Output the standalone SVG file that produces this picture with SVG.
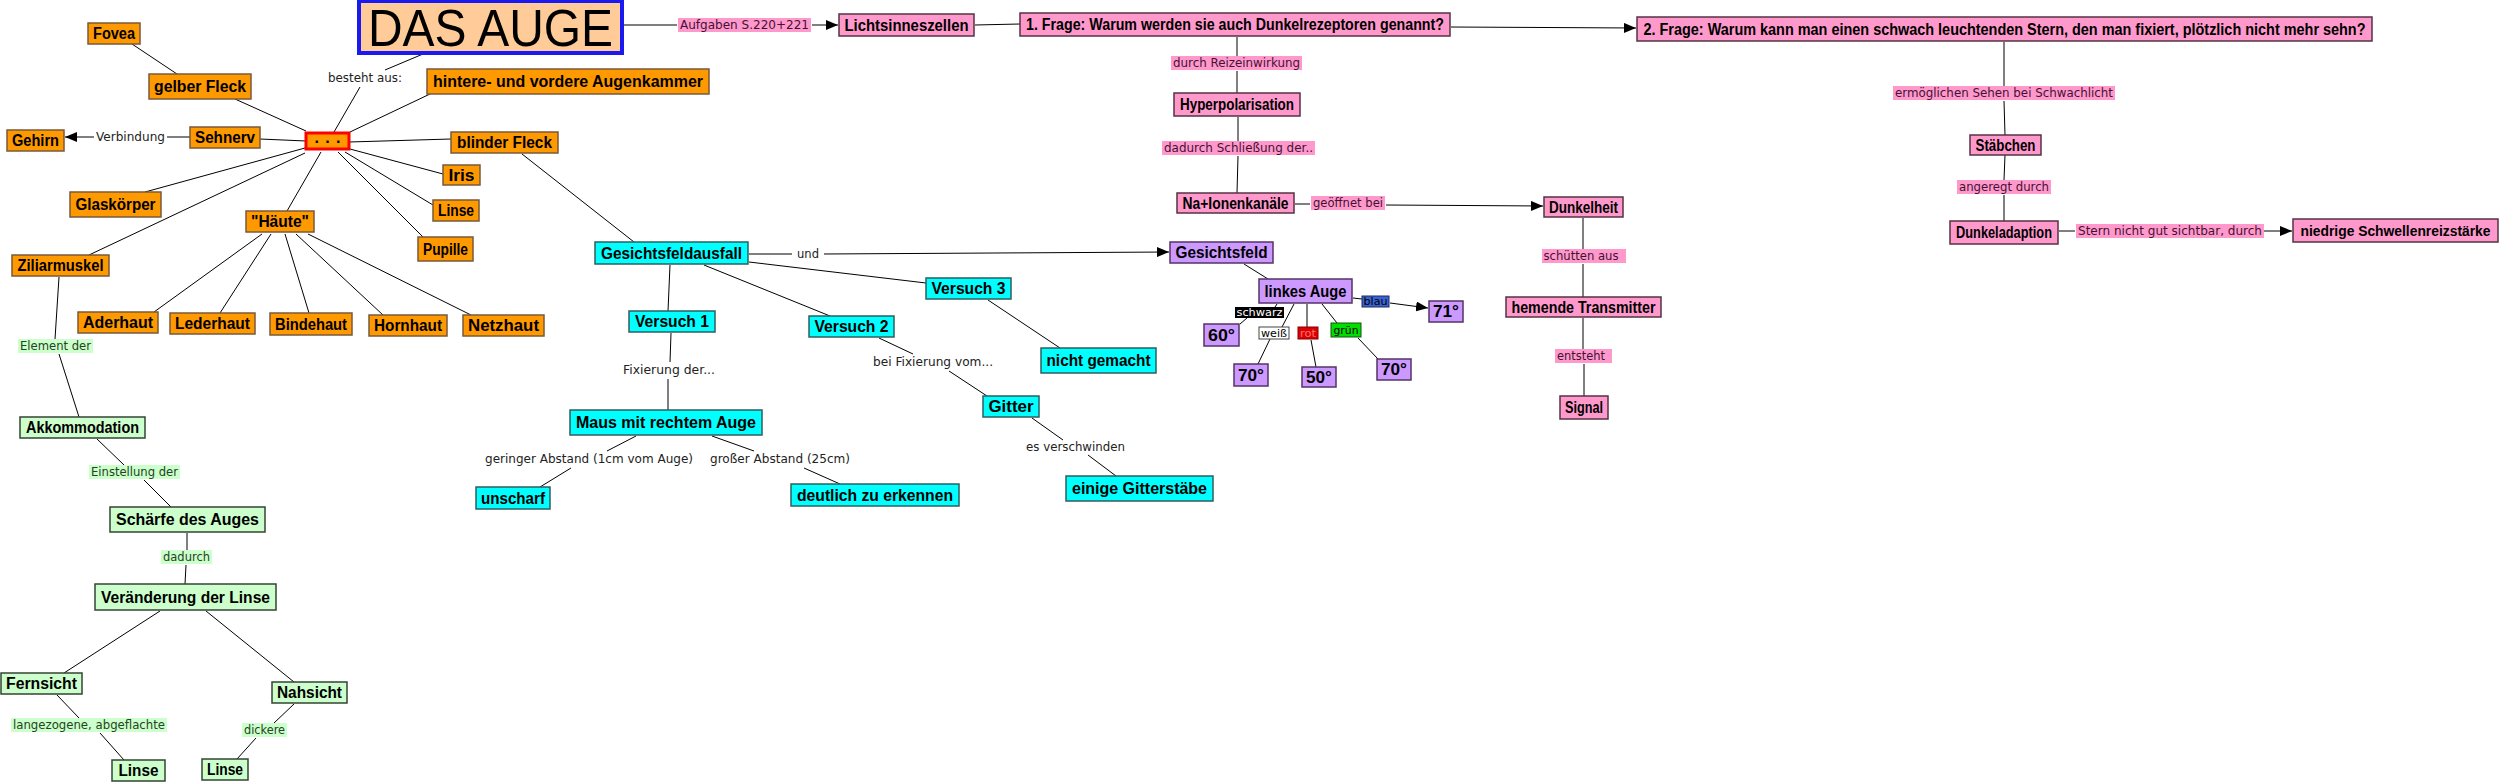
<svg xmlns="http://www.w3.org/2000/svg" width="2503" height="783" viewBox="0 0 2503 783">
<style>
.o{fill:#FF9900;stroke:#7a5a3a;stroke-width:1.5}
.c{fill:#00FFFF;stroke:#2f5f5f;stroke-width:1.5}
.p{fill:#FF99CC;stroke:#553344;stroke-width:1.5}
.v{fill:#CC99FF;stroke:#553366;stroke-width:1.5}
.g{fill:#CCFFCC;stroke:#334433;stroke-width:1.5}
.nt{font-family:"Liberation Sans",Arial,sans-serif;font-weight:bold;font-size:16px;fill:#000;text-anchor:middle;dominant-baseline:central}
.lt{font-family:"DejaVu Sans",Verdana,sans-serif;font-size:11.5px;fill:#222;text-anchor:middle;dominant-baseline:central}
.st{font-family:"DejaVu Sans",Verdana,sans-serif;font-size:10px;fill:#000;text-anchor:middle;dominant-baseline:central}
.lpt{fill:#441133}
.lgt{fill:#224422}
.lp{fill:#FF99CC}
.lg{fill:#CCFFCC}
.e line{stroke:#000;stroke-width:1;fill:none}
.e line.a{marker-end:url(#arr)}
</style>
<defs>
<marker id="arr" markerWidth="12" markerHeight="10" refX="12" refY="5" orient="auto" markerUnits="userSpaceOnUse"><path d="M0,0 L12,5 L0,10 z" fill="#000"/></marker>
</defs>
<rect width="2503" height="783" fill="#fff"/>

<g id="connectors" class="e">
<line x1="423" y1="54" x2="385" y2="70"/>
<line x1="360" y1="87" x2="334" y2="132"/>
<line x1="623" y1="25" x2="677" y2="25"/>
<line class="a" x1="812" y1="25" x2="838" y2="25"/>
<line x1="975" y1="25" x2="1020" y2="24"/>
<line class="a" x1="1451" y1="27" x2="1636" y2="28"/>
<line x1="350" y1="132" x2="430" y2="94"/>
<line x1="306" y1="131" x2="235" y2="99"/>
<line x1="132" y1="44" x2="177" y2="74"/>
<line x1="306" y1="141" x2="260" y2="139"/>
<line x1="190" y1="137" x2="167" y2="137"/>
<line class="a" x1="94" y1="137" x2="65" y2="137"/>
<line x1="349" y1="142" x2="451" y2="139"/>
<line x1="350" y1="149" x2="443" y2="174"/>
<line x1="345" y1="152" x2="433" y2="205"/>
<line x1="338" y1="152" x2="423" y2="237"/>
<line x1="305" y1="148" x2="145" y2="192"/>
<line x1="305" y1="153" x2="89" y2="255"/>
<line x1="321" y1="152" x2="287" y2="211"/>
<line x1="262" y1="234" x2="154" y2="312"/>
<line x1="271" y1="234" x2="220" y2="313"/>
<line x1="285" y1="234" x2="309" y2="313"/>
<line x1="296" y1="234" x2="383" y2="315"/>
<line x1="308" y1="234" x2="471" y2="315"/>
<line x1="59" y1="277" x2="55" y2="339"/>
<line x1="59" y1="354" x2="79" y2="417"/>
<line x1="97" y1="439" x2="124" y2="465"/>
<line x1="144" y1="480" x2="171" y2="507"/>
<line x1="187" y1="533" x2="187" y2="550"/>
<line x1="186" y1="565" x2="185" y2="584"/>
<line x1="160" y1="611" x2="64" y2="673"/>
<line x1="206" y1="611" x2="294" y2="682"/>
<line x1="57" y1="695" x2="79" y2="718"/>
<line x1="100" y1="733" x2="124" y2="760"/>
<line x1="294" y1="704" x2="274" y2="723"/>
<line x1="256" y1="738" x2="237" y2="759"/>
<line x1="522" y1="154" x2="634" y2="242"/>
<line x1="749" y1="254" x2="792" y2="254"/>
<line class="a" x1="824" y1="254" x2="1169" y2="252"/>
<line x1="670" y1="265" x2="668" y2="311"/>
<line x1="704" y1="265" x2="830" y2="316"/>
<line x1="749" y1="262" x2="926" y2="283"/>
<line x1="671" y1="333" x2="670" y2="362"/>
<line x1="668" y1="379" x2="668" y2="410"/>
<line x1="636" y1="436" x2="607" y2="451"/>
<line x1="571" y1="468" x2="540" y2="487"/>
<line x1="712" y1="436" x2="754" y2="451"/>
<line x1="804" y1="468" x2="840" y2="484"/>
<line x1="879" y1="338" x2="913" y2="354"/>
<line x1="949" y1="371" x2="987" y2="396"/>
<line x1="988" y1="300" x2="1060" y2="348"/>
<line x1="1032" y1="418" x2="1063" y2="440"/>
<line x1="1088" y1="455" x2="1116" y2="476"/>
<line x1="1237" y1="37" x2="1237" y2="56"/>
<line x1="1237" y1="71" x2="1237" y2="93"/>
<line x1="1238" y1="117" x2="1238" y2="141"/>
<line x1="1238" y1="156" x2="1237" y2="193"/>
<line x1="1295" y1="204" x2="1310" y2="204"/>
<line class="a" x1="1386" y1="205" x2="1543" y2="206"/>
<line x1="1583" y1="218" x2="1583" y2="249"/>
<line x1="1583" y1="264" x2="1583" y2="297"/>
<line x1="1583" y1="318" x2="1583" y2="349"/>
<line x1="1584" y1="364" x2="1584" y2="396"/>
<line x1="2004" y1="42" x2="2004" y2="86"/>
<line x1="2004" y1="101" x2="2005" y2="135"/>
<line x1="2005" y1="155" x2="2004" y2="180"/>
<line x1="2004" y1="195" x2="2004" y2="221"/>
<line x1="2059" y1="231" x2="2075" y2="231"/>
<line class="a" x1="2264" y1="231" x2="2292" y2="231"/>
<line x1="1244" y1="264" x2="1268" y2="279"/>
<line x1="1277" y1="304" x2="1275" y2="307"/>
<line x1="1247" y1="318" x2="1240" y2="324"/>
<line x1="1294" y1="304" x2="1282" y2="327"/>
<line x1="1270" y1="339" x2="1258" y2="364"/>
<line x1="1307" y1="304" x2="1307" y2="327"/>
<line x1="1311" y1="340" x2="1316" y2="367"/>
<line x1="1322" y1="304" x2="1337" y2="323"/>
<line x1="1358" y1="338" x2="1378" y2="359"/>
<line x1="1353" y1="298" x2="1362" y2="299"/>
<line class="a" x1="1390" y1="303" x2="1428" y2="308"/>
</g>

<g id="labels">
<text class="lt" x="365" y="78" textLength="74" lengthAdjust="spacingAndGlyphs">besteht aus:</text>
<text class="lt" x="130.5" y="137" textLength="69" lengthAdjust="spacingAndGlyphs">Verbindung</text>
<rect class="lp" x="678" y="18" width="133" height="14"/>
<text class="lt lpt" x="744.5" y="25" textLength="129" lengthAdjust="spacingAndGlyphs">Aufgaben S.220+221</text>
<text class="lt" x="808" y="254" textLength="22" lengthAdjust="spacingAndGlyphs">und</text>
<text class="lt" x="669" y="370" textLength="92" lengthAdjust="spacingAndGlyphs">Fixierung der...</text>
<text class="lt" x="589" y="459" textLength="208" lengthAdjust="spacingAndGlyphs">geringer Abstand (1cm vom Auge)</text>
<text class="lt" x="780" y="459" textLength="140" lengthAdjust="spacingAndGlyphs">großer Abstand (25cm)</text>
<text class="lt" x="933" y="362" textLength="120" lengthAdjust="spacingAndGlyphs">bei Fixierung vom...</text>
<text class="lt" x="1075.5" y="447" textLength="99" lengthAdjust="spacingAndGlyphs">es verschwinden</text>
<rect class="lp" x="1171" y="56" width="131" height="14"/>
<text class="lt lpt" x="1236.5" y="63" textLength="127" lengthAdjust="spacingAndGlyphs">durch Reizeinwirkung</text>
<rect class="lp" x="1162" y="141" width="153" height="14"/>
<text class="lt lpt" x="1238.5" y="148" textLength="149" lengthAdjust="spacingAndGlyphs">dadurch Schließung der..</text>
<rect class="lp" x="1311" y="196" width="74" height="14"/>
<text class="lt lpt" x="1348" y="203" textLength="70" lengthAdjust="spacingAndGlyphs">geöffnet bei</text>
<rect class="lp" x="1542" y="249" width="84" height="14"/>
<text class="lt lpt" x="1581" y="256" textLength="75" lengthAdjust="spacingAndGlyphs">schütten aus</text>
<rect class="lp" x="1555" y="349" width="57" height="14"/>
<text class="lt lpt" x="1581" y="356" textLength="48" lengthAdjust="spacingAndGlyphs">entsteht</text>
<rect class="lp" x="1893" y="86" width="222" height="14"/>
<text class="lt lpt" x="2004" y="93" textLength="218" lengthAdjust="spacingAndGlyphs">ermöglichen Sehen bei Schwachlicht</text>
<rect class="lp" x="1957" y="180" width="94" height="14"/>
<text class="lt lpt" x="2004" y="187" textLength="90" lengthAdjust="spacingAndGlyphs">angeregt durch</text>
<rect class="lp" x="2076" y="224" width="188" height="14"/>
<text class="lt lpt" x="2170" y="231" textLength="184" lengthAdjust="spacingAndGlyphs">Stern nicht gut sichtbar, durch</text>
<rect class="lg" x="18" y="339" width="75" height="14"/>
<text class="lt lgt" x="55.5" y="346" textLength="71" lengthAdjust="spacingAndGlyphs">Element der</text>
<rect class="lg" x="89" y="465" width="91" height="14"/>
<text class="lt lgt" x="134.5" y="472" textLength="87" lengthAdjust="spacingAndGlyphs">Einstellung der</text>
<rect class="lg" x="161" y="550" width="51" height="14"/>
<text class="lt lgt" x="186.5" y="557" textLength="47" lengthAdjust="spacingAndGlyphs">dadurch</text>
<rect class="lg" x="11" y="718" width="156" height="14"/>
<text class="lt lgt" x="89" y="725" textLength="152" lengthAdjust="spacingAndGlyphs">langezogene, abgeflachte</text>
<rect class="lg" x="242" y="723" width="45" height="14"/>
<text class="lt lgt" x="264.5" y="730" textLength="41" lengthAdjust="spacingAndGlyphs">dickere</text>
<rect x="1235" y="307" width="49" height="11" fill="#000"/>
<text class="st" x="1259.5" y="312.5" style="fill:#fff" textLength="46" lengthAdjust="spacingAndGlyphs">schwarz</text>
<rect x="1259" y="327" width="30" height="12" fill="#fff" stroke="#444"/>
<text class="st" x="1274" y="333" textLength="26" lengthAdjust="spacingAndGlyphs">weiß</text>
<rect x="1298" y="327" width="20" height="12" fill="#dd0000" stroke="#880000"/>
<text class="st" x="1308" y="333" style="fill:#ff7070" textLength="16" lengthAdjust="spacingAndGlyphs">rot</text>
<rect x="1331" y="323" width="30" height="14" fill="#00dd00" stroke="#115511"/>
<text class="st" x="1346" y="330" textLength="25" lengthAdjust="spacingAndGlyphs">grün</text>
<rect x="1362" y="296" width="27" height="11" fill="#3a62d0" stroke="#1a2a60"/>
<text class="st" x="1375.5" y="301.5" textLength="24" lengthAdjust="spacingAndGlyphs">blau</text>
</g>

<g id="n-das-auge"><rect x="359" y="1" width="263" height="52" fill="#FFCC99" stroke="#1a1aee" stroke-width="4"/><text class="nt" x="490.5" y="28" style="font-weight:normal;font-size:52px" textLength="245" lengthAdjust="spacingAndGlyphs">DAS AUGE</text></g>
<g id="n-fovea"><rect class="o" x="88" y="23" width="52" height="21"/><text class="nt" x="114" y="33.5" textLength="42" lengthAdjust="spacingAndGlyphs">Fovea</text></g>
<g id="n-gelber-fleck"><rect class="o" x="149" y="74" width="102" height="25"/><text class="nt" x="200" y="86.5" textLength="92" lengthAdjust="spacingAndGlyphs">gelber Fleck</text></g>
<g id="n-augenkammer"><rect class="o" x="427" y="69" width="282" height="25"/><text class="nt" x="568" y="81.5" textLength="270" lengthAdjust="spacingAndGlyphs">hintere- und vordere Augenkammer</text></g>
<g id="n-sehnerv"><rect class="o" x="190" y="127" width="70" height="21"/><text class="nt" x="225" y="137.5" textLength="60" lengthAdjust="spacingAndGlyphs">Sehnerv</text></g>
<g id="n-gehirn"><rect class="o" x="7" y="130" width="57" height="21"/><text class="nt" x="35.5" y="140.5" textLength="47" lengthAdjust="spacingAndGlyphs">Gehirn</text></g>
<g id="n-center"><rect x="306" y="133" width="43" height="16" fill="#FF9900" stroke="#ff0000" stroke-width="3"/><text class="nt" x="327.5" y="141" style="dominant-baseline:auto" dy="2" textLength="26" lengthAdjust="spacing">...</text></g>
<g id="n-blinder-fleck"><rect class="o" x="451" y="132" width="107" height="21"/><text class="nt" x="504.5" y="142.5" textLength="95" lengthAdjust="spacingAndGlyphs">blinder Fleck</text></g>
<g id="n-iris"><rect class="o" x="443" y="165" width="37" height="20"/><text class="nt" x="461.5" y="175" textLength="26" lengthAdjust="spacingAndGlyphs">Iris</text></g>
<g id="n-linse-o"><rect class="o" x="433" y="200" width="46" height="21"/><text class="nt" x="456" y="210.5" textLength="36" lengthAdjust="spacingAndGlyphs">Linse</text></g>
<g id="n-pupille"><rect class="o" x="418" y="237" width="55" height="24"/><text class="nt" x="445.5" y="249" textLength="45" lengthAdjust="spacingAndGlyphs">Pupille</text></g>
<g id="n-glaskoerper"><rect class="o" x="70" y="192" width="91" height="25"/><text class="nt" x="115.5" y="204.5" textLength="80" lengthAdjust="spacingAndGlyphs">Glaskörper</text></g>
<g id="n-ziliarmuskel"><rect class="o" x="12" y="255" width="97" height="21"/><text class="nt" x="60.5" y="265.5" textLength="86" lengthAdjust="spacingAndGlyphs">Ziliarmuskel</text></g>
<g id="n-haeute"><rect class="o" x="246" y="211" width="68" height="21"/><text class="nt" x="280" y="221.5" textLength="58" lengthAdjust="spacingAndGlyphs">"Häute"</text></g>
<g id="n-aderhaut"><rect class="o" x="78" y="312" width="80" height="21"/><text class="nt" x="118" y="322.5" textLength="70" lengthAdjust="spacingAndGlyphs">Aderhaut</text></g>
<g id="n-lederhaut"><rect class="o" x="170" y="313" width="85" height="21"/><text class="nt" x="212.5" y="323.5" textLength="75" lengthAdjust="spacingAndGlyphs">Lederhaut</text></g>
<g id="n-bindehaut"><rect class="o" x="270" y="313" width="82" height="22"/><text class="nt" x="311" y="324" textLength="72" lengthAdjust="spacingAndGlyphs">Bindehaut</text></g>
<g id="n-hornhaut"><rect class="o" x="369" y="315" width="78" height="21"/><text class="nt" x="408" y="325.5" textLength="68" lengthAdjust="spacingAndGlyphs">Hornhaut</text></g>
<g id="n-netzhaut"><rect class="o" x="463" y="315" width="81" height="21"/><text class="nt" x="503.5" y="325.5" textLength="71" lengthAdjust="spacingAndGlyphs">Netzhaut</text></g>

<g id="n-akkommodation"><rect class="g" x="20" y="417" width="125" height="21"/><text class="nt" x="82.5" y="427.5" textLength="113" lengthAdjust="spacingAndGlyphs">Akkommodation</text></g>
<g id="n-schaerfe"><rect class="g" x="110" y="507" width="155" height="25"/><text class="nt" x="187.5" y="519.5" textLength="143" lengthAdjust="spacingAndGlyphs">Schärfe des Auges</text></g>
<g id="n-veraenderung"><rect class="g" x="95" y="584" width="181" height="26"/><text class="nt" x="185.5" y="597" textLength="169" lengthAdjust="spacingAndGlyphs">Veränderung der Linse</text></g>
<g id="n-fernsicht"><rect class="g" x="1" y="673" width="81" height="21"/><text class="nt" x="41.5" y="683.5" textLength="71" lengthAdjust="spacingAndGlyphs">Fernsicht</text></g>
<g id="n-nahsicht"><rect class="g" x="272" y="682" width="75" height="21"/><text class="nt" x="309.5" y="692.5" textLength="65" lengthAdjust="spacingAndGlyphs">Nahsicht</text></g>
<g id="n-linse-l"><rect class="g" x="112" y="760" width="53" height="21"/><text class="nt" x="138.5" y="770.5" textLength="40" lengthAdjust="spacingAndGlyphs">Linse</text></g>
<g id="n-linse-r"><rect class="g" x="202" y="759" width="46" height="21"/><text class="nt" x="225" y="769.5" textLength="36" lengthAdjust="spacingAndGlyphs">Linse</text></g>

<g id="n-gesichtsfeldausfall"><rect class="c" x="595" y="242" width="153" height="22"/><text class="nt" x="671.5" y="253" textLength="141" lengthAdjust="spacingAndGlyphs">Gesichtsfeldausfall</text></g>
<g id="n-versuch1"><rect class="c" x="629" y="311" width="86" height="21"/><text class="nt" x="672" y="321.5" textLength="74" lengthAdjust="spacingAndGlyphs">Versuch 1</text></g>
<g id="n-versuch2"><rect class="c" x="809" y="316" width="85" height="21"/><text class="nt" x="851.5" y="326.5" textLength="74" lengthAdjust="spacingAndGlyphs">Versuch 2</text></g>
<g id="n-versuch3"><rect class="c" x="926" y="278" width="85" height="21"/><text class="nt" x="968.5" y="288.5" textLength="74" lengthAdjust="spacingAndGlyphs">Versuch 3</text></g>
<g id="n-maus"><rect class="c" x="570" y="410" width="192" height="25"/><text class="nt" x="666" y="422.5" textLength="180" lengthAdjust="spacingAndGlyphs">Maus mit rechtem Auge</text></g>
<g id="n-unscharf"><rect class="c" x="476" y="487" width="74" height="22"/><text class="nt" x="513" y="498" textLength="64" lengthAdjust="spacingAndGlyphs">unscharf</text></g>
<g id="n-deutlich"><rect class="c" x="791" y="484" width="168" height="22"/><text class="nt" x="875" y="495" textLength="156" lengthAdjust="spacingAndGlyphs">deutlich zu erkennen</text></g>
<g id="n-nicht-gemacht"><rect class="c" x="1041" y="348" width="115" height="25"/><text class="nt" x="1098.5" y="360.5" textLength="104" lengthAdjust="spacingAndGlyphs">nicht gemacht</text></g>
<g id="n-gitter"><rect class="c" x="983" y="396" width="56" height="21"/><text class="nt" x="1011" y="406.5" textLength="45" lengthAdjust="spacingAndGlyphs">Gitter</text></g>
<g id="n-gitterstaebe"><rect class="c" x="1066" y="476" width="147" height="25"/><text class="nt" x="1139.5" y="488.5" textLength="135" lengthAdjust="spacingAndGlyphs">einige Gitterstäbe</text></g>

<g id="n-lichtsinneszellen"><rect class="p" x="839" y="14" width="135" height="22"/><text class="nt" x="906.5" y="25" textLength="124" lengthAdjust="spacingAndGlyphs">Lichtsinneszellen</text></g>
<g id="n-frage1"><rect class="p" x="1020" y="13" width="430" height="23"/><text class="nt" x="1235" y="24.5" textLength="418" lengthAdjust="spacingAndGlyphs">1. Frage: Warum werden sie auch Dunkelrezeptoren genannt?</text></g>
<g id="n-frage2"><rect class="p" x="1637" y="17" width="735" height="24"/><text class="nt" x="2004.5" y="29" textLength="722" lengthAdjust="spacingAndGlyphs">2. Frage: Warum kann man einen schwach leuchtenden Stern, den man fixiert, plötzlich nicht mehr sehn?</text></g>
<g id="n-hyperpolarisation"><rect class="p" x="1174" y="93" width="126" height="23"/><text class="nt" x="1237" y="104.5" textLength="114" lengthAdjust="spacingAndGlyphs">Hyperpolarisation</text></g>
<g id="n-ionenkanaele"><rect class="p" x="1177" y="193" width="117" height="20"/><text class="nt" x="1235.5" y="203" textLength="106" lengthAdjust="spacingAndGlyphs">Na+Ionenkanäle</text></g>
<g id="n-dunkelheit"><rect class="p" x="1544" y="197" width="79" height="20"/><text class="nt" x="1583.5" y="207" textLength="69" lengthAdjust="spacingAndGlyphs">Dunkelheit</text></g>
<g id="n-transmitter"><rect class="p" x="1506" y="297" width="155" height="20"/><text class="nt" x="1583.5" y="307" textLength="144" lengthAdjust="spacingAndGlyphs">hemende Transmitter</text></g>
<g id="n-signal"><rect class="p" x="1560" y="396" width="48" height="23"/><text class="nt" x="1584" y="407.5" textLength="38" lengthAdjust="spacingAndGlyphs">Signal</text></g>
<g id="n-staebchen"><rect class="p" x="1970" y="135" width="71" height="20"/><text class="nt" x="2005.5" y="145" textLength="60" lengthAdjust="spacingAndGlyphs">Stäbchen</text></g>
<g id="n-dunkeladaption"><rect class="p" x="1950" y="221" width="108" height="23"/><text class="nt" x="2004" y="232.5" textLength="96" lengthAdjust="spacingAndGlyphs">Dunkeladaption</text></g>
<g id="n-schwellenreiz"><rect class="p" x="2293" y="219" width="205" height="23"/><text class="nt" x="2395.5" y="230.5" style="font-size:14.5px" textLength="190" lengthAdjust="spacingAndGlyphs">niedrige Schwellenreizstärke</text></g>

<g id="n-gesichtsfeld"><rect class="v" x="1170" y="242" width="103" height="21"/><text class="nt" x="1221.5" y="252.5" textLength="92" lengthAdjust="spacingAndGlyphs">Gesichtsfeld</text></g>
<g id="n-linkes-auge"><rect class="v" x="1259" y="279" width="93" height="24"/><text class="nt" x="1305.5" y="291" textLength="82" lengthAdjust="spacingAndGlyphs">linkes Auge</text></g>
<g id="n-60"><rect class="v" x="1204" y="324" width="35" height="22"/><text class="nt" x="1221.5" y="335" textLength="27" lengthAdjust="spacingAndGlyphs">60°</text></g>
<g id="n-70a"><rect class="v" x="1234" y="364" width="34" height="22"/><text class="nt" x="1251" y="375" textLength="26" lengthAdjust="spacingAndGlyphs">70°</text></g>
<g id="n-50"><rect class="v" x="1302" y="367" width="34" height="20"/><text class="nt" x="1319" y="377" textLength="26" lengthAdjust="spacingAndGlyphs">50°</text></g>
<g id="n-70b"><rect class="v" x="1377" y="359" width="34" height="21"/><text class="nt" x="1394" y="369.5" textLength="26" lengthAdjust="spacingAndGlyphs">70°</text></g>
<g id="n-71"><rect class="v" x="1429" y="301" width="34" height="21"/><text class="nt" x="1446" y="311.5" textLength="26" lengthAdjust="spacingAndGlyphs">71°</text></g>
</svg>
